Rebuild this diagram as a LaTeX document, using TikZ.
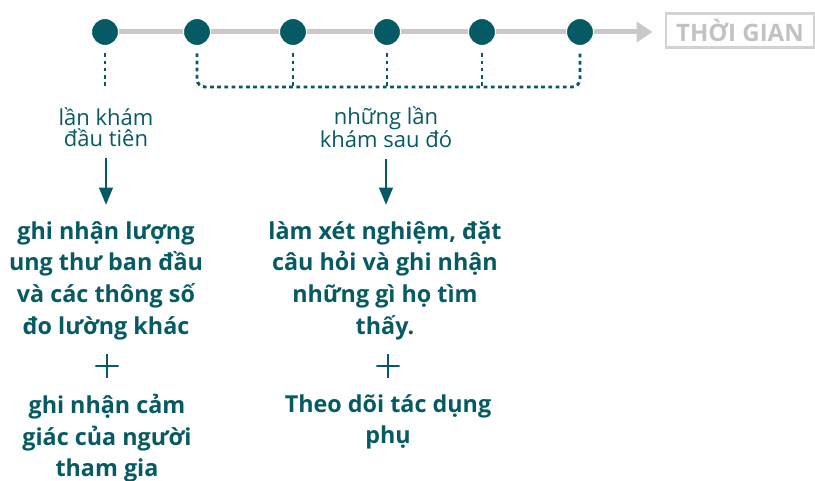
\documentclass[tikz,border=0pt]{standalone}
\usepackage{fontspec}
\setmainfont{Open Sans}
\usetikzlibrary{arrows.meta,calc,positioning}
\definecolor{petrol}{HTML}{065A64}
\definecolor{linegray}{HTML}{C9C9CB}
\definecolor{boxgray}{HTML}{D3D3D5}
\definecolor{labelgray}{HTML}{C2C2C4}

\begin{document}
\begin{tikzpicture}[x=0.75pt, y=-0.75pt,
		dot/.style={circle, fill=petrol, draw=white, line width=1pt, minimum size=20.5pt, inner sep=0pt},
		timeline/.style={linegray, line width=3.75pt},
		dashline/.style={petrol, line width=2.2pt, dash pattern=on 2.8pt off 2.6pt},
		timebox/.style={draw=boxgray, line width=2.2pt, minimum width=111pt, minimum height=26pt, inner sep=0pt, text=labelgray, font=\bfseries\fontsize{18}{20}\selectfont},
		visit/.style={text=petrol, align=center, inner sep=0pt, font=\fontsize{16.5}{16}\selectfont},
		record/.style={text=petrol, align=center, inner sep=0pt, anchor=north, font=\bfseries\fontsize{17.5}{23.75}\selectfont},
		pointer/.style={petrol, line width=2.2pt, -{Triangle[width=10pt,length=13pt]}, shorten <=8pt, shorten >=12pt},
		plus/.style={minimum size=17.5pt, inner sep=0pt, path picture={
			\draw[petrol, line width=1.7pt] (path picture bounding box.north) -- (path picture bounding box.south)
				(path picture bounding box.west) -- (path picture bounding box.east);}}]
		\useasboundingbox (0,0) rectangle (815,481);

		% visits on the time axis
		\foreach \i/\x in {1/105,2/197,3/293,4/387,5/482,6/580}
			\node[dot] (c\i) at (\x,32) {};
		\foreach \a/\b in {1/2,2/3,3/4,4/5,5/6}
			\draw[timeline] (c\a) -- (c\b);
		\node[timebox] (time) at (740,30.5) {THỜI GIAN};
		\draw[timeline, -{Triangle[width=15pt,length=12pt]}, shorten >=9pt] (c6) -- (c6 -| time.west);

		% dotted links down to the labels
		\coordinate (br) at (0,87);
		\draw[dashline] ($(c1.south)+(0,7)$) -- (c1 |- br);
		\draw[dashline, rounded corners=6pt] ($(c2.south)+(0,7)$) -- (c2 |- br) -- (c6 |- br) -- ($(c6.south)+(0,7)$);
		\foreach \i in {3,4,5}
			\draw[dashline] ($(c\i.south)+(0,7)$) -- (c\i |- br);

		\node[visit] (first) at (106,127) {lần khám\\đầu tiên};
		\node[visit] (later) at (386,127) {những lần\\khám sau đó};

		\node[record] (rec1) at (106,221) {ghi nhận lượng\\ung thư ban đầu\\và các thông số\\đo lường khác};
		\node[record] (rec2) at (385,221) {làm xét nghiệm, đặt\\câu hỏi và ghi nhận\\những gì họ tìm\\thấy.};
		\draw[pointer] (first) -- (first |- rec1.north);
		\draw[pointer] (later) -- (later |- rec2.north);

		\node[plus] (plus1) at (107,366) {};
		\node[plus] (plus2) at (388,366) {};
		\node[record] (rec3) at (107,394) {ghi nhận cảm\\giác của người\\tham gia};
		\node[record] (rec4) at (388,394) {Theo dõi tác dụng\\phụ};

	\end{tikzpicture}
\end{document}
